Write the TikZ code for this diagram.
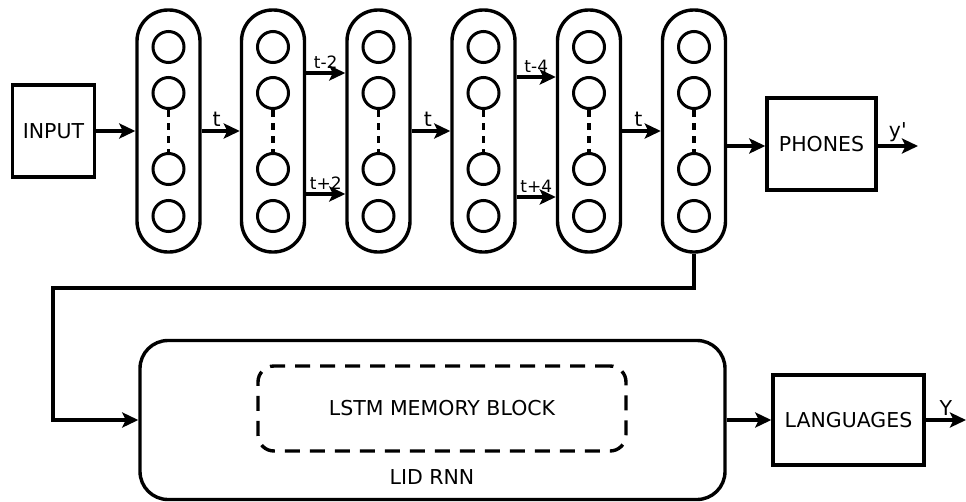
\documentclass[tikz,border=0pt]{standalone}
\usepackage{fontspec}
\setmainfont{DejaVu Sans}
\usepackage{tikz}
\usetikzlibrary{arrows.meta,positioning,calc}

\begin{document}
\begin{tikzpicture}[x=1pt,y=-1pt, line width=3.4pt, every node/.style={font=\fontsize{20.5}{24}\selectfont,inner sep=0pt},
 col/.style={draw,rounded corners=31pt,minimum width=63pt,minimum height=242pt},
 unit/.style={draw,circle,minimum size=31pt,line width=3pt},
 box/.style={draw,minimum width=82pt,minimum height=92pt,align=center},
 lbl/.style={font=\fontsize{17}{20}\selectfont,above=3pt},
 big/.style={font=\fontsize{20.5}{24}\selectfont},
 a/.style={-{Stealth[length=16pt,width=15pt,inset=3.5pt]}}]
\useasboundingbox (0,0) rectangle (966,501);
\node[box] (input) at (53.5,131) {INPUT};
\foreach \i/\x in {1/168.5,2/273,3/378.5,4/483.5,5/589,6/694}{
  \node[col] (c\i) at (\x,131) {};
  \node[unit] (c\i u1) at (\x,47) {};
  \node[unit] (c\i u2) at (\x,93) {};
  \node[unit] (c\i u3) at (\x,169) {};
  \node[unit] (c\i u4) at (\x,216) {};
  \draw[dash pattern=on 7pt off 6pt] (c\i u2.south) -- (c\i u3.north);
}
\node[box,minimum width=109pt] (phones) at (821.5,144) {PHONES};
\coordinate (bend) at (53,288);
\node[draw,rounded corners=28pt,minimum width=585pt,minimum height=159pt] (lid) at (432.5,420) {};
\node[draw,rounded corners=16pt,dash pattern=on 15pt off 10pt,minimum width=368pt,minimum height=85pt] (lstm) at (442,408.5) {LSTM MEMORY BLOCK};
\node (lidname) at (432,477) {LID RNN};
\node[box,minimum width=151pt,minimum height=90pt] (lang) at (848.5,420) {LANGUAGES};
\coordinate (yout) at (918,146);
\coordinate (Yout) at (966,420);
\draw[a] (input) -- (c1);
\draw[a] (c1) -- node[lbl,big,xshift=-4pt] {t} (c2);
\draw[a] ([yshift=58pt]c2.east) -- node[lbl] {t-2} ([yshift=58pt]c3.west);
\draw[a] ([yshift=-63pt]c2.east) -- node[lbl] {t+2} ([yshift=-63pt]c3.west);
\draw[a] (c3) -- node[lbl,big,xshift=-3pt] {t} (c4);
\draw[a] ([yshift=54pt]c4.east) -- node[lbl] {t-4} ([yshift=54pt]c5.west);
\draw[a] ([yshift=-66pt]c4.east) -- node[lbl] {t+4} ([yshift=-66pt]c5.west);
\draw[a] (c5) -- node[lbl,big,xshift=-3pt] {t} (c6);
\draw[a] (c6.east |- yout) -- (phones.west |- yout);
\draw[a] (phones.east |- yout) -- node[lbl,big] {y\textquotesingle} (yout);
\draw[a] (c6.south) |- (bend) |- (lid.west);
\draw[a] (lid.east) -- (lang.west);
\draw[a] (lang.east) -- node[lbl,big] {Y} (Yout);
\end{tikzpicture}
\end{document}
